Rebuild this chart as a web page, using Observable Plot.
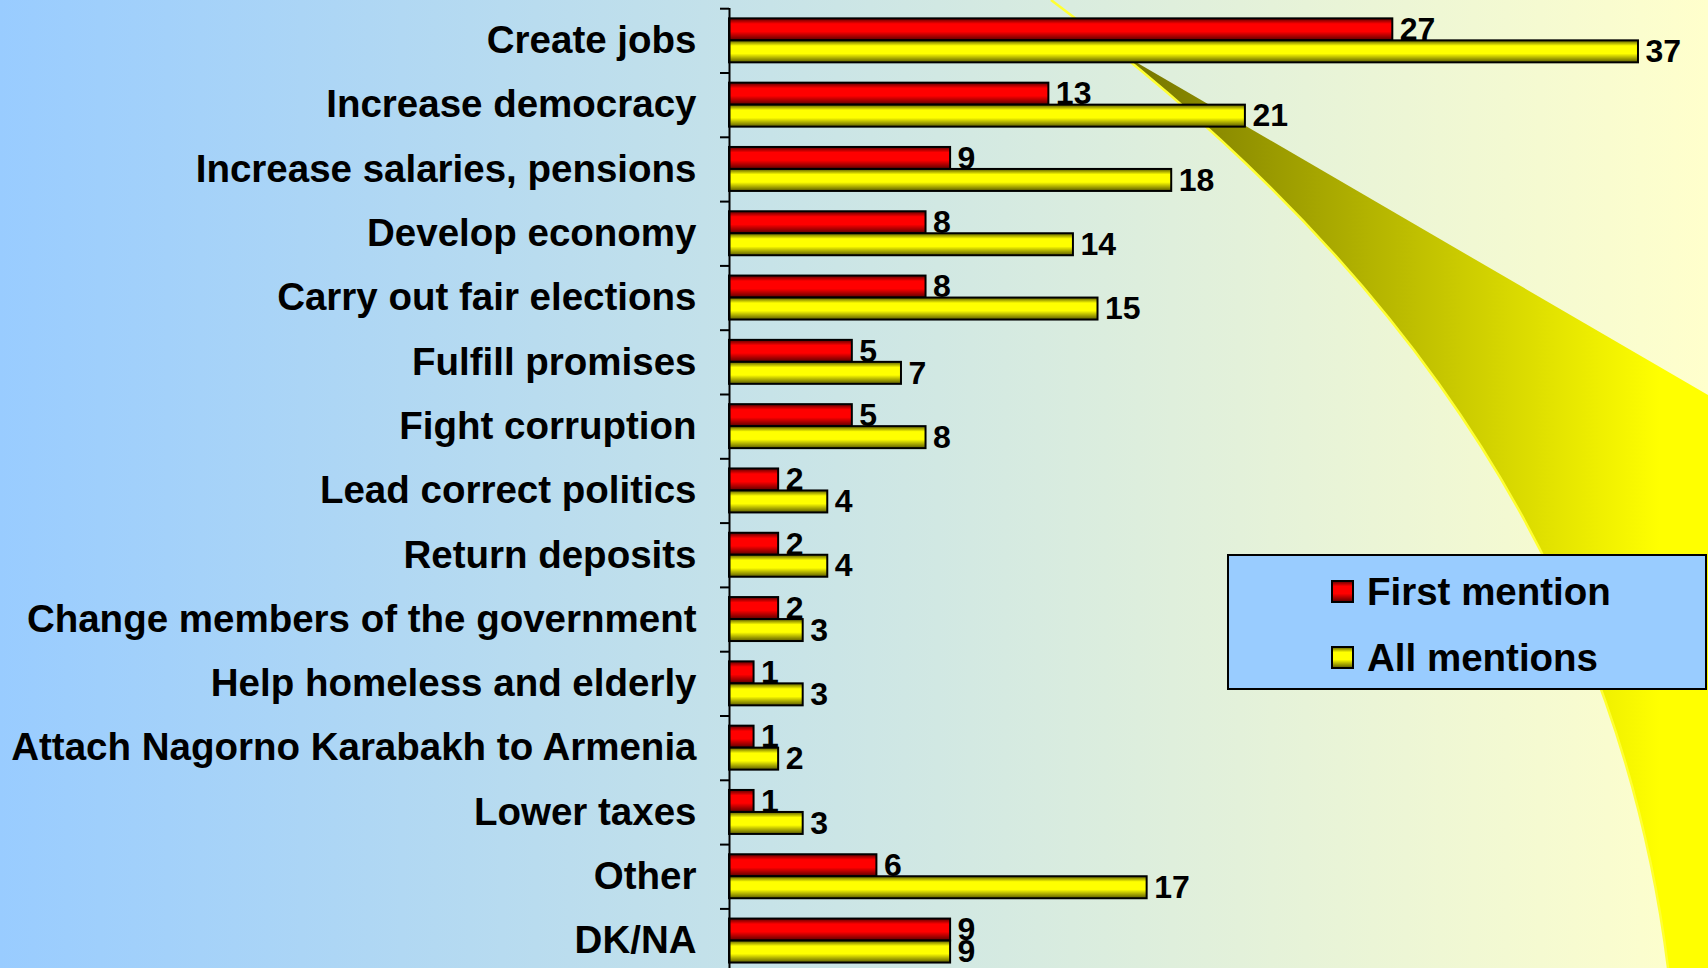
<!DOCTYPE html>
<html>
<head>
<meta charset="utf-8">
<script src="https://cdn.jsdelivr.net/npm/d3@7"></script>
<script src="https://cdn.jsdelivr.net/npm/@observablehq/plot@0.6"></script>
<style>
  html, body { margin: 0; padding: 0; overflow: hidden; }
  #wrap {
    position: relative; width: 1708px; height: 968px;
    background: linear-gradient(to right, #99ccff 0%, #ffffcc 100%);
    font-family: "Liberation Sans", Arial, sans-serif;
  }
  #bg, #chart, #legend { position: absolute; left: 0; top: 0; }
  #chart svg { display: block; }
</style>
</head>
<body>
<div id="wrap">
  <svg id="bg" width="1708" height="968">
    <defs>
      <linearGradient id="gRed" x1="0" y1="0" x2="0" y2="1">
        <stop offset="0" stop-color="#5a0000"/>
        <stop offset="0.25" stop-color="#ff0000"/>
        <stop offset="0.6" stop-color="#ff0000"/>
        <stop offset="1" stop-color="#5a0000"/>
      </linearGradient>
      <linearGradient id="gYel" x1="0" y1="0" x2="0" y2="1">
        <stop offset="0" stop-color="#5a5a00"/>
        <stop offset="0.25" stop-color="#ffff00"/>
        <stop offset="0.6" stop-color="#ffff00"/>
        <stop offset="1" stop-color="#5a5a00"/>
      </linearGradient>
      <linearGradient id="gSwoosh" gradientUnits="userSpaceOnUse" x1="1150" y1="0" x2="1660" y2="0">
        <stop offset="0" stop-color="#7a7a00"/>
        <stop offset="1" stop-color="#ffff00"/>
      </linearGradient>
      <clipPath id="belowLine"><path d="M1000,-17 L1708,395 L1708,968 L1000,968 Z"/></clipPath>
    </defs>
    <path d="M1051,0 C1320,200 1610,500 1668,968 L1708,968 L1708,0 Z" fill="url(#gSwoosh)" clip-path="url(#belowLine)"/>
    <path d="M1051,0 C1320,200 1610,500 1668,968" fill="none" stroke="#ffff33" stroke-width="2.5"/>
  </svg>
  <div id="chart"></div>
  <svg id="legend" width="1708" height="968" style="pointer-events:none">
    <rect x="1228" y="555" width="478" height="134" fill="#99ccff" stroke="black" stroke-width="2"/>
    <rect x="1332" y="581" width="21" height="21" fill="url(#gRed)" stroke="black" stroke-width="2"/>
    <text x="1367" y="605" font-family="Liberation Sans, Arial, sans-serif" font-size="38.5" font-weight="bold" fill="black">First mention</text>
    <rect x="1332" y="647" width="21" height="21" fill="url(#gYel)" stroke="black" stroke-width="2"/>
    <text x="1367" y="671" font-family="Liberation Sans, Arial, sans-serif" font-size="38.5" font-weight="bold" fill="black">All mentions</text>
  </svg>
</div>
<script>
const categories = [
  "Create jobs",
  "Increase democracy",
  "Increase salaries, pensions",
  "Develop economy",
  "Carry out fair elections",
  "Fulfill promises",
  "Fight corruption",
  "Lead correct politics",
  "Return deposits",
  "Change members of the government",
  "Help homeless and elderly",
  "Attach Nagorno Karabakh to Armenia",
  "Lower taxes",
  "Other",
  "DK/NA"
];
const firstMention = [27, 13, 9, 8, 8, 5, 5, 2, 2, 2, 1, 1, 1, 6, 9];
const allMentions  = [37, 21, 18, 14, 15, 7, 8, 4, 4, 3, 3, 2, 3, 17, 9];

const firstRows = categories.map((c, i) => ({category: c, value: firstMention[i]}));
const allRows = categories.map((c, i) => ({category: c, value: allMentions[i]}));

const W = 1708, H = 968, mL = 729;
const yTop = 8.2, yBottom = 972.7;
const pInner = 0.316, pOuter = pInner / 2;
const step = (yBottom - yTop) / categories.length;
const bw = step * (1 - pInner);
const half = bw / 2;
const font = "Liberation Sans, Arial, sans-serif";

const chart = Plot.plot({
  width: W, height: H,
  marginTop: 8, marginBottom: 0, marginLeft: mL, marginRight: 0,
  style: {background: "transparent", fontFamily: font, color: "black", overflow: "visible"},
  x: {domain: [0, 39.85], axis: null},
  y: {domain: categories, range: [yTop, yBottom], round: false, paddingInner: pInner, paddingOuter: pOuter, label: null, axis: null},
  marks: [
    Plot.axisY({tickSize: 0, tickPadding: 33, fontSize: 38.5, fontWeight: "bold", fill: "black", label: null}),
    Plot.axisY({tickSize: 9, tickFormat: () => "", dy: -step / 2, stroke: "black", strokeWidth: 2, label: null}),
    Plot.barX(firstRows, {x: "value", y: "category", fill: "url(#gRed)", stroke: "black", strokeWidth: 2, insetBottom: half}),
    Plot.barX(allRows, {x: "value", y: "category", fill: "url(#gYel)", stroke: "black", strokeWidth: 2, insetTop: half}),
    Plot.ruleX([0], {stroke: "black", strokeWidth: 2}),
    Plot.text(firstRows, {x: "value", y: "category", text: "value", dx: 7, dy: -half / 2, textAnchor: "start", lineAnchor: "middle", fontSize: 32, fontWeight: "bold", fill: "black"}),
    Plot.text(allRows, {x: "value", y: "category", text: "value", dx: 7, dy: half / 2, textAnchor: "start", lineAnchor: "middle", fontSize: 32, fontWeight: "bold", fill: "black"})
  ]
});
document.getElementById("chart").appendChild(chart);
</script>
</body>
</html>
